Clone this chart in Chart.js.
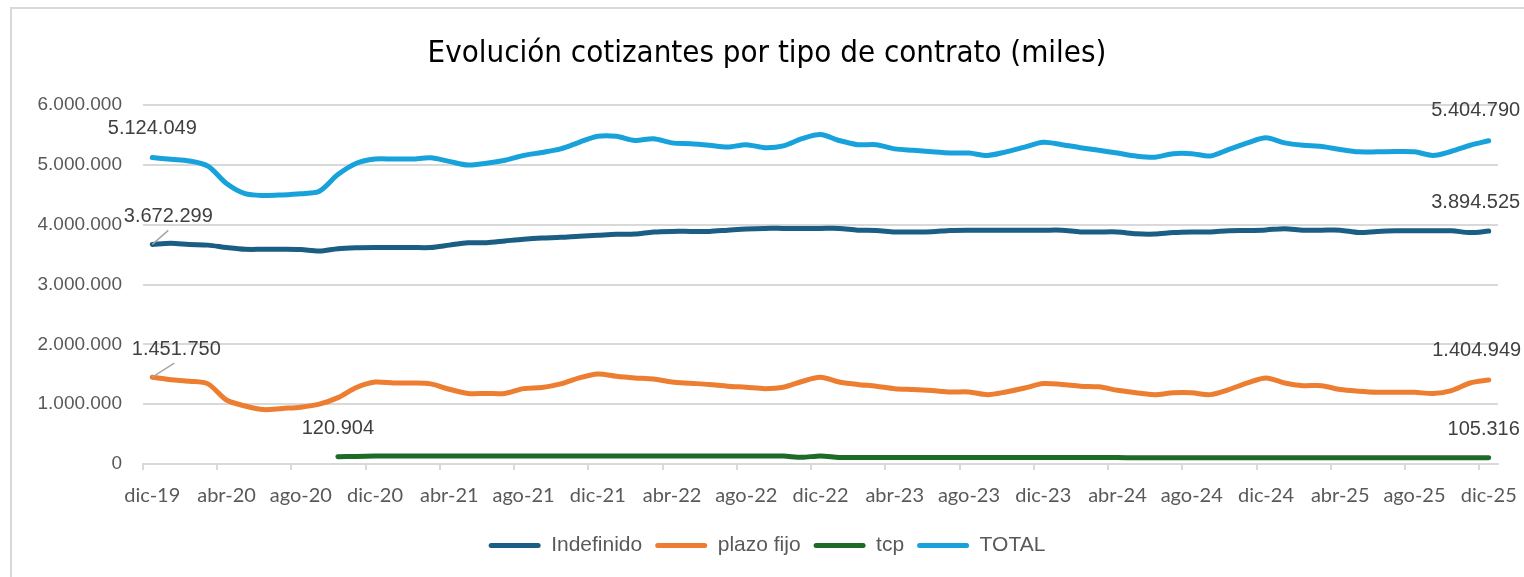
<!DOCTYPE html>
<html><head><meta charset="utf-8">
<script src="https://cdn.jsdelivr.net/npm/chart.js@4.4.1/dist/chart.umd.min.js"></script>
<style>
html,body{margin:0;padding:0;background:#fff;overflow:hidden;}
#wrap{position:relative;width:1524px;height:577px;}
#frame{position:absolute;left:10px;top:7px;width:1530px;height:600px;border-left:2px solid #d9d9d9;border-top:2px solid #d9d9d9;}
canvas{position:absolute;left:0;top:0;}
</style></head><body>
<div id="wrap"><div id="frame"></div><canvas id="c" width="1524" height="577"></canvas></div>
<script>
const months = [
 'dic-19','ene-20','feb-20','mar-20','abr-20','may-20','jun-20','jul-20','ago-20','sep-20','oct-20','nov-20',
 'dic-20','ene-21','feb-21','mar-21','abr-21','may-21','jun-21','jul-21','ago-21','sep-21','oct-21','nov-21',
 'dic-21','ene-22','feb-22','mar-22','abr-22','may-22','jun-22','jul-22','ago-22','sep-22','oct-22','nov-22',
 'dic-22','ene-23','feb-23','mar-23','abr-23','may-23','jun-23','jul-23','ago-23','sep-23','oct-23','nov-23',
 'dic-23','ene-24','feb-24','mar-24','abr-24','may-24','jun-24','jul-24','ago-24','sep-24','oct-24','nov-24',
 'dic-24','ene-25','feb-25','mar-25','abr-25','may-25','jun-25','jul-25','ago-25','sep-25','oct-25','nov-25',
 'dic-25'];

const indefinido = [
 3672299,3690000,3670000,3660000,3620000,3590000,3590000,3590000,3585000,3560000,3600000,3615000,
 3620000,3620000,3620000,3620000,3660000,3700000,3700000,3730000,3760000,3780000,3790000,3810000,
 3825000,3840000,3845000,3880000,3890000,3890000,3890000,3910000,3930000,3940000,3940000,3940000,
 3940000,3940000,3910000,3905000,3880000,3880000,3885000,3905000,3910000,3910000,3910000,3910000,
 3910000,3910000,3880000,3880000,3880000,3850000,3845000,3870000,3880000,3880000,3900000,3905000,
 3915000,3935000,3910000,3910000,3910000,3870000,3890000,3900000,3900000,3900000,3900000,3870000,
 3894525];

const plazoFijo = [
 1451750,1410000,1385000,1340000,1070000,970000,910000,930000,950000,1000000,1110000,1280000,
 1370000,1355000,1355000,1340000,1250000,1180000,1180000,1180000,1260000,1280000,1340000,1440000,
 1505000,1467000,1440000,1420000,1370000,1350000,1330000,1300000,1283000,1260000,1283000,1380000,
 1450000,1370000,1330000,1300000,1260000,1245000,1228000,1205000,1205000,1160000,1205000,1270000,
 1345000,1330000,1300000,1290000,1233000,1190000,1160000,1190000,1190000,1160000,1245000,1355000,
 1440000,1355000,1310000,1310000,1245000,1217000,1200000,1200000,1200000,1178000,1228000,1355000,
 1404949];

const tcp = [
 null,null,null,null,null,null,null,null,null,null,120904,126000,
 132000,132000,132000,132000,132000,132000,132000,132000,132000,132000,132000,132000,
 132000,132000,132000,132000,132000,132000,132000,132000,132000,132000,132000,112000,
 135000,110000,108000,108000,108000,108000,108000,108000,108000,108000,107000,107000,
 107000,107000,107000,107000,107000,106000,106000,106000,106000,106000,106000,106000,
 106000,106000,106000,106000,106000,106000,105500,105500,105500,105500,105500,105500,
 105316];

const total = [
 5124049,5095000,5067000,4980000,4690000,4520000,4490000,4500000,4520000,4560000,4840000,5030000,
 5100000,5100000,5100000,5120000,5060000,5000000,5030000,5080000,5160000,5210000,5270000,5380000,
 5480000,5480000,5410000,5440000,5370000,5355000,5330000,5300000,5340000,5290000,5320000,5440000,
 5510000,5410000,5340000,5340000,5270000,5245000,5220000,5200000,5200000,5160000,5220000,5300000,
 5380000,5340000,5290000,5245000,5200000,5150000,5130000,5190000,5190000,5150000,5260000,5370000,
 5455000,5370000,5330000,5310000,5260000,5220000,5220000,5225000,5220000,5160000,5230000,5330000,
 5404790];

const yTicks = [0,1000000,2000000,3000000,4000000,5000000,6000000];

const seriesNames = ['Indefinido','plazo fijo','tcp','TOTAL'];
const seriesColors = ['#1a5e83','#ed7d31','#1e6b28','#18a2dc'];

// data label specs: dataset index, point index, label offset, optional leader end
const labelSpecs = [
 {ds:3, i:0,  dx:0,   dy:-29},
 {ds:0, i:0,  dx:16,  dy:-28, lx:16, ly:-14},
 {ds:1, i:0,  dx:24,  dy:-28, lx:22, ly:-14},
 {ds:2, i:10, dx:0,   dy:-28},
 {ds:3, i:72, dx:-13, dy:-30},
 {ds:0, i:72, dx:-13, dy:-29},
 {ds:1, i:72, dx:-12, dy:-29},
 {ds:2, i:72, dx:-5,  dy:-28}
];

function fmt(v){
  return String(Math.round(v)).replace(/\B(?=(\d{3})+(?!\d))/g,'.');
}

const dataLabelPlugin = {
  id:'dataLabels',
  afterDatasetsDraw(chart){
    const ctx = chart.ctx;
    ctx.save();
    ctx.font = '20px "Liberation Sans", Arial, sans-serif';
    ctx.fillStyle = '#404040';
    ctx.textAlign = 'center';
    ctx.textBaseline = 'middle';
    labelSpecs.forEach(s=>{
      const meta = chart.getDatasetMeta(s.ds);
      const el = meta.data[s.i];
      if(!el) return;
      const v = chart.data.datasets[s.ds].data[s.i];
      if(s.lx!==undefined){
        ctx.strokeStyle = '#a6a6a6';
        ctx.lineWidth = 1.5;
        ctx.beginPath();
        ctx.moveTo(el.x, el.y);
        ctx.lineTo(el.x + s.lx, el.y + s.ly);
        ctx.stroke();
      }
      ctx.fillText(fmt(v), el.x + s.dx, el.y + s.dy);
    });
    ctx.restore();
  }
};

const seriesData = [indefinido, plazoFijo, tcp, total];
const datasets = seriesNames.map((n,k)=>({
  label:n,
  data:seriesData[k],
  borderColor:seriesColors[k],
  backgroundColor:seriesColors[k],
  borderWidth:5,
  pointRadius:0,
  tension:0.3,
  borderCapStyle:'round',
  borderJoinStyle:'round',
  spanGaps:false
}));

new Chart(document.getElementById('c'), {
  type:'line',
  data:{labels:months, datasets},
  plugins:[dataLabelPlugin],
  options:{
    responsive:false,
    animation:false,
    devicePixelRatio:1,
    layout:{padding:{left:36,right:26,top:0,bottom:11}},
    plugins:{
      title:{display:true,text:'Evolución cotizantes por tipo de contrato (miles)',
        color:'#000',font:{family:'"Liberation Sans Narrow", "DejaVu Sans Condensed", sans-serif',size:31,weight:'normal'},
        padding:{top:35,bottom:33}},
      legend:{position:'bottom',
        labels:{color:'#595959',font:{family:'"Liberation Sans Narrow", sans-serif',size:21},
          boxWidth:52,boxHeight:5,useBorderRadius:true,borderRadius:2.5,padding:13,
          generateLabels(chart){
            const items = Chart.defaults.plugins.legend.labels.generateLabels(chart);
            items.forEach(it=>{it.lineWidth=0;});
            return items;
          }}},
      tooltip:{enabled:false}
    },
    scales:{
      x:{
        offset:true,
        afterFit:(s)=>{s.paddingLeft=0; s.paddingRight=0;},
        grid:{offset:true,drawOnChartArea:false,drawTicks:true,tickLength:6,lineWidth:2,
          color:(c)=> (c.index%4===0 ? '#d9d9d9' : 'rgba(0,0,0,0)')},
        border:{color:'#d9d9d9',width:2},
        ticks:{autoSkip:false,maxRotation:0,minRotation:0,padding:14,color:'#595959',
          font:{family:'Lato, sans-serif',size:20},
          callback:function(v,i){return i%4===0 ? months[i] : '';}}
      },
      y:{
        min:0,max:6000000,
        afterBuildTicks:(s)=>{s.ticks = yTicks.map(v=>({value:v}));},
        afterFit:(s)=>{s.width=107;},
        grid:{color:'#d9d9d9',lineWidth:2,drawTicks:false},
        border:{display:false},
        ticks:{padding:21,color:'#595959',font:{family:'"Liberation Sans", Arial, sans-serif',size:19},
          callback:(v)=>fmt(v)}
      }
    }
  }
});
</script>
</body></html>
